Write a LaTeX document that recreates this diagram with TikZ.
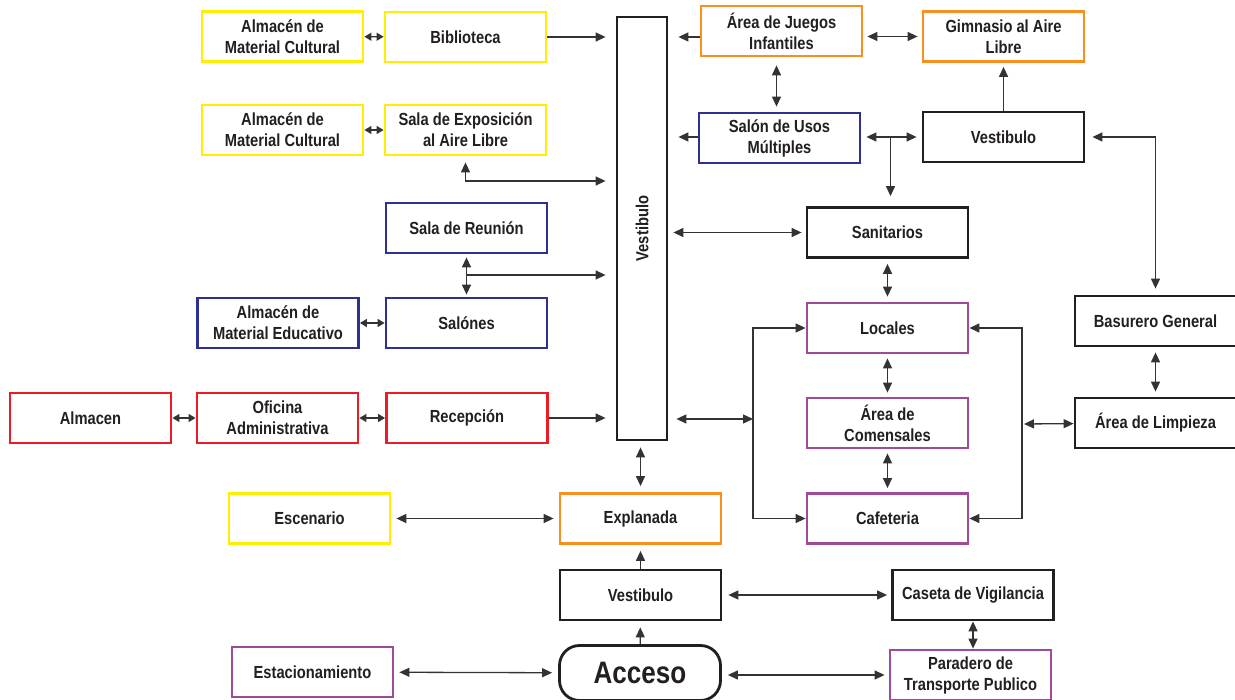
\documentclass[tikz,border=0pt]{standalone}
\usepackage{fontspec}
\setmainfont{Liberation Sans}[FakeStretch=0.84]
\usetikzlibrary{arrows.meta}

\definecolor{ylw}{HTML}{FFEE00}
\definecolor{org}{HTML}{F7901E}
\definecolor{blu}{HTML}{2E3192}
\definecolor{rd}{HTML}{ED1C24}
\definecolor{pur}{HTML}{A3499A}
\definecolor{blk}{HTML}{231F20}
\definecolor{txt}{HTML}{231F20}
\definecolor{lne}{HTML}{333333}

\begin{document}
\begin{tikzpicture}[
        x=1pt, y=-1pt,
        box/.style={rectangle, draw, line width=2.8pt, minimum width=161pt, minimum height=50pt, align=center, inner sep=2pt, text=txt, font=\bfseries\fontsize{17.5}{21}\selectfont},
        ylwbox/.style={box, draw=ylw},
        orgbox/.style={box, draw=org},
        blubox/.style={box, draw=blu},
        redbox/.style={box, draw=rd},
        purbox/.style={box, draw=pur},
        blkbox/.style={box, draw=blk},
        ptr/.tip={Triangle[length=10pt, width=9pt]},
        sptr/.tip={Triangle[length=7pt, width=8pt]},
        arr/.style={-ptr, line width=1.3pt, draw=lne},
        darr/.style={ptr-ptr, line width=1.3pt, draw=lne},
        sdarr/.style={sptr-sptr, line width=1.3pt, draw=lne},
    ]
        \fill[white] (0,0) rectangle (1235,700);
        \useasboundingbox (0,0) rectangle (1235,700);

        % Main hall
        \node[blkbox, minimum width=50pt, minimum height=423pt] (vest) at (642,228.5) {\rotatebox{90}{Vestibulo}};

        % Left wing
        \node[ylwbox] (almcul) at (282.5,36.5) {Almacén de\\Material Cultural};
        \node[ylwbox] (bib) at (465.5,37) {Biblioteca};
        \node[ylwbox] (almexp) at (282.5,130) {Almacén de\\Material Cultural};
        \node[ylwbox] (expo) at (465.5,130) {Sala de Exposición\\al Aire Libre};
        \node[blubox] (reu) at (466.5,228) {Sala de Reunión};
        \node[blubox] (almedu) at (278,323) {Almacén de\\Material Educativo};
        \node[blubox] (sal) at (466.5,323) {Salónes};
        \node[redbox] (alm) at (90.5,418) {Almacen};
        \node[redbox] (ofi) at (277.5,418) {Oficina\\Administrativa};
        \node[redbox] (rec) at (467,418) {Recepción};

        % Right wing
        \node[orgbox] (jue) at (781.5,31) {Área de Juegos\\Infantiles};
        \node[orgbox] (gim) at (1003.5,36.5) {Gimnasio al Aire\\Libre};
        \node[blubox] (usos) at (779.5,138) {Salón de Usos\\Múltiples};
        \node[blkbox] (vestr) at (1003.5,137) {Vestibulo};
        \node[blkbox] (san) at (887.5,232.5) {Sanitarios};
        \node[purbox] (loc) at (887.5,328) {Locales};
        \node[blkbox] (bas) at (1155.5,321) {Basurero General};
        \node[purbox] (com) at (887.5,423) {Área de\\Comensales};
        \node[blkbox] (lim) at (1155.5,423) {Área de Limpieza};
        \node[purbox] (caf) at (887.5,518.5) {Cafeteria};

        % Entrance
        \node[ylwbox] (esc) at (309.5,518.5) {Escenario};
        \node[orgbox] (expl) at (640.5,518.5) {Explanada};
        \node[blkbox] (vestb) at (640.5,595) {Vestibulo};
        \node[blkbox] (cas) at (973,595) {Caseta de Vigilancia};
        \node[purbox] (est) at (312.5,672) {Estacionamiento};
        \node[blkbox, rounded corners=20pt, minimum height=55pt, font=\bfseries\fontsize{31}{34}\selectfont] (acc) at (640,673) {Acceso};
        \node[purbox] (par) at (970.5,675) {Paradero de\\Transporte Publico};

        % Bus points
        \coordinate (lbus) at (753,419);
        \coordinate (rbus) at (1022,424);

        % Left wing arrows
        \draw[sdarr] (almcul) -- (bib);
        \draw[arr, shorten >=10pt] (bib) -- (bib -| vest.west);
        \draw[sdarr] (almexp) -- (expo);
        \draw[darr, shorten <=6pt, shorten >=10pt] (expo.south) |- (vest.west |- 0,181);
        \draw[darr, shorten <=3pt, shorten >=2pt] (reu) -- (sal);
        \draw[arr, shorten >=10pt] (reu.south |- 0,275) -- (vest.west |- 0,275);
        \draw[sdarr] (almedu) -- (sal);
        \draw[sdarr] (alm) -- (ofi);
        \draw[sdarr] (ofi) -- (rec);
        \draw[arr, shorten >=10pt] (rec) -- (rec -| vest.west);

        % Right wing arrows
        \draw[arr, shorten >=10pt] (jue.west |- bib) -- (vest.east |- bib);
        \draw[darr, shorten <=4pt, shorten >=4pt] (jue.east |- gim) -- (gim);
        \draw[darr, shorten <=8pt, shorten >=5pt] ([xshift=-5pt]jue.south) -- ([xshift=-5pt]jue.south |- usos.north);
        \draw[arr, shorten >=4pt] (vestr) -- (gim);
        \draw[arr, shorten >=10pt] (usos.west |- vestr) -- (vest.east |- vestr);
        \draw[darr, shorten <=5pt, shorten >=5pt] (usos.east |- vestr) -- (vestr);
        \draw[arr, shorten >=10pt] ([xshift=3pt]san.north |- vestr) -- ([xshift=3pt]san.north);
        \draw[darr, shorten <=7pt, shorten >=6pt] (vestr) -| (bas);
        \draw[darr, shorten <=5pt, shorten >=4pt] (vest.east |- san) -- (san);
        \draw[darr, shorten <=5pt, shorten >=5pt] (san) -- (loc);
        \draw[darr, shorten <=4pt, shorten >=4pt] (loc) -- (com);
        \draw[darr, shorten <=4pt, shorten >=4pt] (com) -- (caf);
        \draw[darr, shorten <=8pt] (vest.east |- lbus) -- (lbus);
        \draw[arr] (lbus) |- (loc.west);
        \draw[arr] (lbus) |- (caf.west);
        \draw[darr, shorten <=2pt] (rbus) -- (lim);
        \draw[arr] (rbus) |- (loc.east);
        \draw[arr] (rbus) |- (caf.east);
        \draw[darr, shorten <=5pt, shorten >=5pt] (bas) -- (lim);

        % Entrance arrows
        \draw[darr, shorten <=6pt, shorten >=6pt] (expl.north |- vest.south) -- (expl.north);
        \draw[darr, shorten <=5pt, shorten >=5pt] (esc) -- (expl);
        \draw[arr, shorten >=6pt] (vestb) -- (expl);
        \draw[arr, shorten >=6pt] (acc) -- (vestb);
        \draw[darr, shorten <=6pt, shorten >=4pt] (vestb) -- (cas);
        \draw[darr] (cas.south) -- (cas.south |- par.north);
        \draw[darr, shorten <=5pt, shorten >=6pt] (est) -- (acc);
        \draw[darr, shorten <=6pt, shorten >=4pt] (acc.east |- par) -- (par);
    \end{tikzpicture}
\end{document}
